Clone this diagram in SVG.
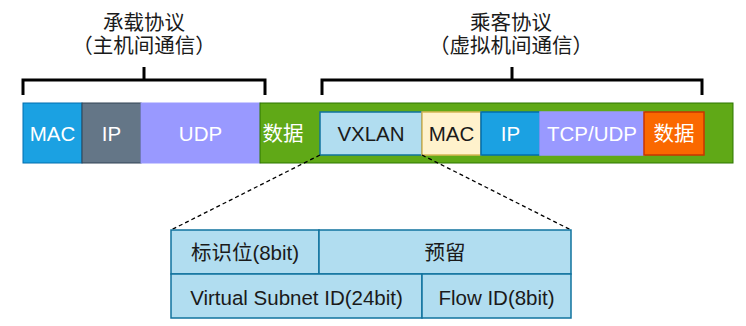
<svg xmlns="http://www.w3.org/2000/svg" width="746" height="326" viewBox="0 0 746 326">
<style>
text{font-family:"Liberation Sans","Noto Sans CJK SC",sans-serif;font-size:20.5px;text-anchor:middle;dominant-baseline:central}
.w{fill:#ffffff}
.k{fill:#1a1a1a}
.br{fill:none;stroke:#000;stroke-width:3}
.dash{fill:none;stroke:#000;stroke-width:1.3;stroke-dasharray:4 3}
.cell{fill:#b1ddf0;stroke:#10739e;stroke-width:1.5}
</style>
<rect width="746" height="326" fill="#fff"/>
<g id="label-carrier">
<text x="144" y="22" class="k">承载协议</text>
<text x="144" y="45" class="k">（主机间通信）</text>
</g>
<g id="label-passenger">
<text x="511" y="22" class="k">乘客协议</text>
<text x="511" y="45" class="k">（虚拟机间通信）</text>
</g>
<g id="brackets">
<path class="br" d="M23 95 V80 H265 V95 M144 80 V67"/>
<path class="br" d="M322 95 V80 H702 V95 M512 80 V67"/>
</g>
<g id="outer-mac"><rect x="23" y="103" width="59" height="60" fill="#1ba1e2" stroke="#006eaf"/><text x="52.5" y="133" class="w">MAC</text></g>
<g id="outer-ip"><rect x="82" y="103" width="59" height="60" fill="#647687" stroke="#314354"/><text x="111.5" y="133" class="w">IP</text></g>
<g id="outer-udp"><rect x="141" y="103" width="119" height="60" fill="#9999ff" stroke="#9999ff"/><text x="200.5" y="133" class="w">UDP</text></g>
<g id="payload"><rect x="260" y="103" width="473" height="60" fill="#60a917" stroke="#2d7600"/><text x="283" y="133" class="w">数据</text></g>
<g id="vxlan"><rect x="320" y="112" width="102" height="43" fill="#b1ddf0" stroke="#10739e" stroke-width="1.5"/><text x="371" y="133.5" class="k">VXLAN</text></g>
<g id="inner-mac"><rect x="422" y="112" width="59" height="43" fill="#fff2cc" stroke="#d6b656" stroke-width="1.5"/><text x="451.5" y="133.5" class="k">MAC</text></g>
<g id="inner-ip"><rect x="481" y="112" width="59" height="43" fill="#1ba1e2" stroke="#006eaf" stroke-width="1.5"/><text x="510.5" y="133.5" class="w">IP</text></g>
<g id="inner-tcpudp"><rect x="540" y="112" width="104" height="43" fill="#9999ff" stroke="#9999ff" stroke-width="1.5"/><text x="592" y="133.5" class="w">TCP/UDP</text></g>
<g id="inner-data"><rect x="644" y="112" width="60" height="43" fill="#fa6800" stroke="#c73500" stroke-width="1.5"/><text x="674" y="133.5" class="w">数据</text></g>
<g id="connectors">
<line class="dash" x1="320" y1="155" x2="171" y2="230"/>
<line class="dash" x1="422" y1="155" x2="571" y2="230"/>
</g>
<g id="flag"><rect class="cell" x="171" y="230" width="148" height="44"/><text x="245" y="252" class="k">标识位(8bit)</text></g>
<g id="reserved"><rect class="cell" x="319" y="230" width="252" height="44"/><text x="445" y="252" class="k">预留</text></g>
<g id="vsid"><rect class="cell" x="171" y="274" width="251" height="44"/><text x="296.5" y="297" class="k">Virtual Subnet ID(24bit)</text></g>
<g id="flowid"><rect class="cell" x="422" y="274" width="149" height="44"/><text x="496.5" y="297" class="k">Flow ID(8bit)</text></g>
</svg>
